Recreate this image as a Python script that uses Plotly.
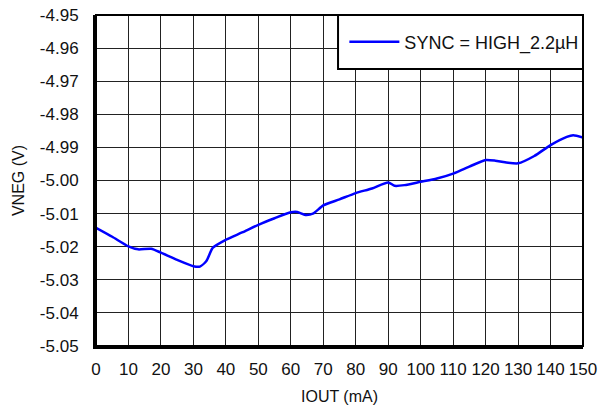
import plotly.graph_objects as go

# values
iout = [0, 5, 10, 13, 17, 20, 25, 30, 32, 34, 36, 40, 45, 50, 55, 60, 62, 64.5, 67,
        70, 75, 80, 85, 90, 92, 95, 100, 105, 110, 115, 120, 123, 126, 130, 135, 140,
        145, 147, 150]
vneg = [-5.0143, -5.0170, -5.0199, -5.0208, -5.0206, -5.0218, -5.0240, -5.0259, -5.0260,
        -5.0243, -5.0203, -5.0179, -5.0157, -5.0134, -5.0114, -5.0096, -5.0095, -5.0104,
        -5.0099, -5.0075, -5.0057, -5.0038, -5.0024, -5.0006, -5.0016, -5.0014, -5.0004,
        -4.9994, -4.9979, -4.9958, -4.9938, -4.9940, -4.9945, -4.9948, -4.9926, -4.9893,
        -4.9868, -4.9863, -4.9870]
series_name = "SYNC = HIGH_2.2µH"

x_ticks = list(range(0, 151, 10))
y_ticks = [-4.95, -4.96, -4.97, -4.98, -4.99, -5.00, -5.01, -5.02, -5.03, -5.04, -5.05]

font_family = "Liberation Sans, Arial, sans-serif"

fig = go.Figure()

fig.add_trace(
    go.Scatter(x=iout, y=vneg, mode="lines", name=series_name,
               line=dict(color="#0000ff", width=2.5, shape="spline", smoothing=0.6))
)

# white legend box with black border, drawn over the grid
fig.add_shape(type="rect", xref="paper", yref="paper", x0=0.497, x1=1.0, y0=0.837, y1=1.0,
              line=dict(color="black", width=2), fillcolor="white", layer="above")
# frame top/right
fig.add_shape(type="rect", xref="paper", yref="paper", x0=0, x1=1, y0=0, y1=1,
              line=dict(color="black", width=2), layer="above")

fig.update_xaxes(
    range=[0, 150], tickvals=x_ticks, ticktext=[str(v) for v in x_ticks],
    showgrid=True, gridcolor="#222222", gridwidth=1,
    showline=True, linecolor="black", linewidth=3,
    ticks="outside", ticklen=6, tickcolor="rgba(0,0,0,0)",
    zeroline=False, automargin=False,
    title=dict(text="IOUT (mA)", standoff=13, font=dict(size=16, color="#111")),
    tickfont=dict(size=17, color="#111"),
)
fig.update_yaxes(
    range=[-5.05, -4.95], tickvals=y_ticks, ticktext=["%.2f" % v for v in y_ticks],
    showgrid=True, gridcolor="#222222", gridwidth=1,
    showline=True, linecolor="black", linewidth=3,
    ticks="outside", ticklen=11, tickcolor="rgba(0,0,0,0)",
    zeroline=False, automargin=False,
    title=dict(text="VNEG (V)", standoff=12, font=dict(size=16, color="#111")),
    tickfont=dict(size=17, color="#111"),
)

fig.update_layout(
    width=599, height=410,
    margin=dict(l=96, r=16, t=15, b=64),
    paper_bgcolor="white", plot_bgcolor="white",
    font=dict(family=font_family, color="#111"),
    showlegend=True,
    legend=dict(x=0.51, y=0.918, xanchor="left", yanchor="middle",
                bgcolor="rgba(0,0,0,0)", borderwidth=0,
                font=dict(size=18, color="#111"), itemwidth=50),
    dragmode=False,
)

# drop the default page margin so the figure sits at the window's corner
fig.write_html("out.html", config={"displayModeBar": False},
               post_script="document.body.style.margin='0';")
